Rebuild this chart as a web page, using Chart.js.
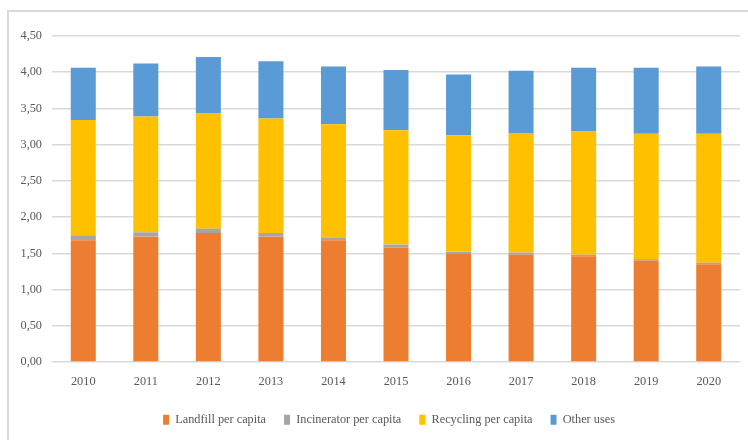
<!DOCTYPE html>
<html>
<head>
<meta charset="utf-8">
<script src="https://cdn.jsdelivr.net/npm/chart.js@4"></script>
<style>
  html, body { margin: 0; padding: 0; background: #fff; }
  #wrap { position: relative; width: 748px; height: 445px; }
  #frame {
    position: absolute; left: 7px; top: 10px; width: 741px; height: 428px;
    border-left: 2px solid #d9d9d9; border-top: 2px solid #d9d9d9;
    pointer-events: none;
  }
</style>
</head>
<body>
<div id="wrap">
  <canvas id="waste" width="748" height="445"></canvas>
  <div id="frame"></div>
</div>
<script>
// years and per-capita waste by destination
var years = ["2010", "2011", "2012", "2013", "2014", "2015", "2016", "2017", "2018", "2019", "2020"];
var landfill = [1.68, 1.73, 1.78, 1.73, 1.68, 1.58, 1.49, 1.48, 1.46, 1.40, 1.35];
var incinerator = [0.06, 0.06, 0.06, 0.05, 0.04, 0.04, 0.03, 0.03, 0.02, 0.02, 0.02];
var recycling = [1.60, 1.60, 1.59, 1.58, 1.56, 1.58, 1.61, 1.65, 1.70, 1.73, 1.78];
var otherUses = [0.72, 0.73, 0.78, 0.79, 0.80, 0.83, 0.84, 0.86, 0.88, 0.91, 0.93];

var font = { family: "'Liberation Serif', 'Times New Roman', serif", size: 12.3 };
Chart.defaults.color = "#595959";
Chart.defaults.font = font;

function series(label, data, color) {
  return {
    label: label,
    data: data,
    backgroundColor: color,
    barPercentage: 0.4,
    categoryPercentage: 1.0
  };
}

// nudge the legend a bit to the right of the canvas centre
var legendShift = {
  id: "legendShift",
  afterLayout: function (chart) {
    if (chart.legend) {
      chart.legend.left += 19;
      chart.legend.right += 19;
    }
  }
};

new Chart(document.getElementById("waste"), {
  type: "bar",
  data: {
    labels: years,
    datasets: [
      series("Landfill per capita", landfill, "#ED7D31"),
      series("Incinerator per capita", incinerator, "#A5A5A5"),
      series("Recycling per capita", recycling, "#FFC000"),
      series("Other uses", otherUses, "#5B9BD5")
    ]
  },
  plugins: [legendShift],
  options: {
    responsive: false,
    animation: false,
    layout: { padding: { top: 36, right: 8, bottom: 9, left: 0 } },
    plugins: {
      legend: {
        position: "bottom",
        labels: { boxWidth: 6, boxHeight: 10, padding: 18, font: font }
      },
      tooltip: { enabled: false }
    },
    scales: {
      x: {
        stacked: true,
        afterFit: function (s) { s.height += 3; },
        grid: { display: false },
        border: { display: false },
        ticks: { padding: 4 }
      },
      y: {
        stacked: true,
        min: 0,
        max: 4.5,
        afterFit: function (s) { s.width = 52; },
        grid: { color: "#d9d9d9", lineWidth: 1.5, drawTicks: false },
        border: { display: false },
        ticks: {
          stepSize: 0.5,
          padding: 10,
          callback: function (v) { return v.toFixed(2).replace(".", ","); }
        }
      }
    }
  }
});
</script>
</body>
</html>
